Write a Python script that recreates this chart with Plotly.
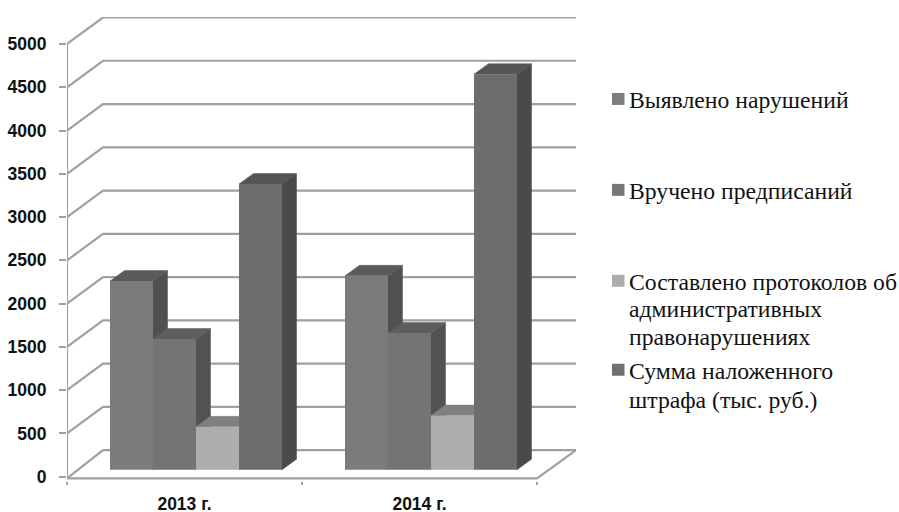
import plotly.graph_objects as go

categories = ["2013 г.", "2014 г."]
series_names = ["Выявлено нарушений", "Вручено предписаний",
                "Составлено протоколов об<br>административных<br>правонарушениях",
                "Сумма наложенного<br>штрафа (тыс. руб.)"]
violations = [2180, 2240]
orders = [1510, 1580]
protocols = [495, 625]
fines = [3300, 4570]
y_ticks = [0, 500, 1000, 1500, 2000, 2500, 3000, 3500, 4000, 4500, 5000]

series_values = [violations, orders, protocols, fines]
front_colors = ["#7b7b7b", "#747474", "#adadad", "#6d6d6d"]
top_colors = ["#5a5a5a", "#5e5e5e", "#808080", "#555555"]
side_colors = ["#505050", "#525252", "#666666", "#4a4a4a"]
swatch_colors = ["#7d7d7d", "#777777", "#adadad", "#707070"]
swatch_y_px = [99, 190, 281, 370]
legend_line_y_px = [[100], [191], [282, 309, 337], [371, 400]]

W, H = 899, 512
L, R, T = 67, 323, 17
zero_px = 477.0
px_per_group = 235.0
px_per_unit = 0.0866
floor_drop = -20
y_min = -50
B = H - (zero_px - y_min * px_per_unit)
x_max = (W - L - R) / px_per_group
y_max = (zero_px - T) / px_per_unit
wall_dx = 36 / px_per_group
wall_dy = 26.5 / px_per_unit
bar_dx = 14.5 / px_per_group
bar_dy = 10.5 / px_per_unit
bar_base = 7 / px_per_unit
bar_w = 43 / px_per_group
bar_start = 43 / px_per_group
grid = "#a0a0a0"

fig = go.Figure()


def line(xs, ys):
    fig.add_trace(go.Scatter(x=xs, y=ys, mode="lines", cliponaxis=False, showlegend=False,
                             hoverinfo="skip", line=dict(color=grid, width=2.2)))


def face(xs, ys, color):
    fig.add_trace(go.Scatter(x=xs, y=ys, mode="lines", fill="toself", fillcolor=color,
                             line=dict(color=color, width=0.5), cliponaxis=False,
                             showlegend=False, hoverinfo="skip"))


for v in y_ticks:
    if v == 0:
        line([wall_dx, x_max], [wall_dy, wall_dy])
    else:
        line([0, wall_dx, x_max], [v, v + wall_dy, v + wall_dy])
line([wall_dx, 0], [wall_dy, floor_drop])
line([0, 0], [floor_drop, 5000])
line([0, 2, x_max], [floor_drop, floor_drop, wall_dy])

for g in range(len(categories)):
    for s, vals in enumerate(series_values):
        x0 = g + bar_start + s * bar_w
        x1 = x0 + bar_w
        top = bar_base + vals[g]
        face([x1, x1 + bar_dx, x1 + bar_dx, x1, x1],
             [bar_base, bar_base + bar_dy, top + bar_dy, top, bar_base], side_colors[s])
        face([x0, x1, x1 + bar_dx, x0 + bar_dx, x0],
             [top, top, top + bar_dy, top + bar_dy, top], top_colors[s])

for s, vals in enumerate(series_values):
    fig.add_trace(go.Bar(x=list(range(len(categories))), y=vals, base=bar_base,
                         width=bar_w, offset=bar_start + s * bar_w,
                         marker=dict(color=front_colors[s], line=dict(width=0)),
                         name=series_names[s].replace("<br>", " "), showlegend=False,
                         xaxis="x2", yaxis="y2", hoverinfo="skip"))

shapes, annotations = [], []
plot_w, plot_h = W - L - R, H - T - B
for i, name in enumerate(series_names):
    yc = swatch_y_px[i]
    shapes.append(dict(type="rect", xref="paper", yref="paper",
                       x0=(612 - L) / plot_w, x1=(624.5 - L) / plot_w,
                       y0=(H - B - (yc + 6)) / plot_h, y1=(H - B - (yc - 6)) / plot_h,
                       fillcolor=swatch_colors[i], line=dict(width=0)))
    for text, ypx in zip(name.split("<br>"), legend_line_y_px[i]):
        annotations.append(dict(text=text, xref="paper", yref="paper", showarrow=False, align="left",
                                x=(627 - L) / plot_w, xanchor="left",
                                y=(H - B - ypx) / plot_h, yanchor="middle",
                                font=dict(family="Liberation Serif", size=23.7, color="#111111")))

tick_font = dict(family="Liberation Sans", size=17.5, color="#111111", weight="bold")
fig.update_layout(
    width=W, height=H, margin=dict(l=L, r=R, t=T, b=B), autosize=False,
    paper_bgcolor="white", plot_bgcolor="white", showlegend=False, barmode="overlay",
    shapes=shapes, annotations=annotations,
    xaxis=dict(range=[0, x_max], tickmode="array", tickvals=[0.5, 1.5], ticktext=categories,
               ticks="", showgrid=False, zeroline=False, showline=False, tickfont=tick_font,
               ticklabelstandoff=10, automargin=False,
               minor=dict(tickmode="array", tickvals=[0, 1, 2], ticks="outside", ticklen=3,
                          tickwidth=2, tickcolor=grid, showgrid=False)),
    yaxis=dict(range=[y_min, y_max], tickmode="array", tickvals=y_ticks, ticks="outside", ticklen=7,
               tickwidth=2, tickcolor=grid, showgrid=False, zeroline=False, showline=False,
               tickfont=tick_font, ticklabelstandoff=9, automargin=False),
    xaxis2=dict(range=[0, x_max], overlaying="x", visible=False),
    yaxis2=dict(range=[y_min, y_max], overlaying="y", visible=False),
)
fig.write_html("out.html", config=dict(displayModeBar=False),
               post_script="document.body.style.margin='0';document.documentElement.style.overflow='hidden';")
